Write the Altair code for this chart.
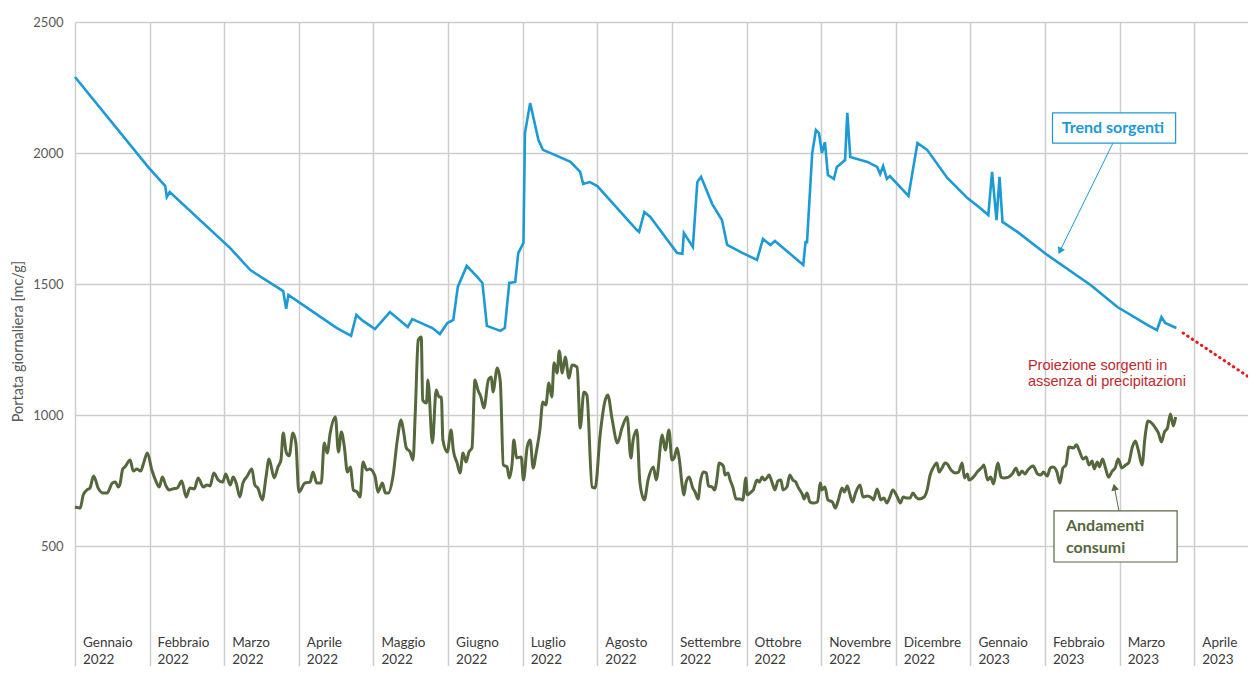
import altair as alt
import pandas as pd

# ---- data (x = months since 1 Jan 2022, equal-width months; y = mc/g) ----
months = ["Gennaio", "Febbraio", "Marzo", "Aprile", "Maggio", "Giugno", "Luglio",
          "Agosto", "Settembre", "Ottobre", "Novembre", "Dicembre",
          "Gennaio", "Febbraio", "Marzo", "Aprile"]
years = ["2022"] * 12 + ["2023"] * 4

trend_m = [0.00, 0.99, 1.21, 1.23, 1.27, 2.08, 2.35, 2.79, 2.83, 2.86,
           3.00, 3.51, 3.70, 3.77, 3.86, 4.02, 4.22, 4.46, 4.52, 4.79,
           4.89, 4.99, 5.07, 5.13, 5.25, 5.39, 5.46, 5.52, 5.70, 5.76,
           5.82, 5.90, 5.94, 6.01, 6.03, 6.10, 6.21, 6.27, 6.46, 6.64,
           6.77, 6.81, 6.90, 7.00, 7.53, 7.56, 7.63, 7.71, 8.07, 8.14,
           8.16, 8.28, 8.34, 8.39, 8.54, 8.67, 8.74, 8.95, 9.14, 9.22,
           9.32, 9.38, 9.76, 9.79, 9.81, 9.88, 9.93, 9.97, 10.01, 10.05,
           10.09, 10.17, 10.21, 10.32, 10.35, 10.39, 10.62, 10.75, 10.79, 10.83,
           10.88, 10.92, 11.17, 11.29, 11.42, 11.69, 11.96, 12.13, 12.24, 12.29,
           12.35, 12.39, 12.43, 12.63, 13.03, 13.61, 13.97, 14.37, 14.50, 14.56,
           14.61, 14.76]
trend_v = [2290, 1943, 1874, 1832, 1851, 1637, 1553, 1473, 1405, 1458,
           1431, 1332, 1302, 1382, 1359, 1328, 1393, 1336, 1366, 1332,
           1309, 1351, 1363, 1489, 1569, 1527, 1504, 1340, 1321, 1332,
           1504, 1508, 1618, 1657, 2076, 2191, 2050, 2012, 1989, 1966,
           1928, 1882, 1889, 1874, 1706, 1699, 1775, 1756, 1618, 1615,
           1695, 1641, 1889, 1909, 1805, 1744, 1649, 1618, 1592, 1672,
           1649, 1664, 1573, 1660, 1660, 2000, 2088, 2076, 2000, 2042,
           1916, 1901, 1947, 1973, 2153, 1985, 1966, 1947, 1920, 1950,
           1901, 1912, 1836, 2038, 2012, 1905, 1828, 1790, 1763, 1928,
           1744, 1909, 1737, 1699, 1611, 1496, 1412, 1344, 1324, 1374,
           1351, 1332]

proj_m = [14.85, 15.83]
proj_v = [1313, 1126]

cons_m = [0.00, 0.07, 0.11, 0.16, 0.20, 0.25, 0.31, 0.38, 0.43, 0.50, 0.54, 0.58, 0.60, 0.64, 0.67, 0.74, 0.78, 0.83, 0.88, 0.92, 0.97,
          1.03, 1.09, 1.13, 1.17, 1.22, 1.26, 1.31, 1.37, 1.43, 1.49, 1.54, 1.60, 1.65, 1.72, 1.77, 1.81, 1.86, 1.92, 1.98,
          2.02, 2.08, 2.12, 2.16, 2.21, 2.25, 2.31, 2.37, 2.41, 2.45, 2.51, 2.56, 2.60, 2.67, 2.72, 2.76, 2.79, 2.83, 2.87, 2.92, 2.96,
          3.00, 3.08, 3.15, 3.19, 3.24, 3.30, 3.34, 3.38, 3.42, 3.49, 3.53, 3.57, 3.61, 3.65, 3.69, 3.73, 3.78, 3.82, 3.86, 3.91, 3.95,
          4.02, 4.06, 4.12, 4.16, 4.20, 4.26, 4.32, 4.37, 4.40, 4.44, 4.49, 4.53, 4.56, 4.60, 4.64, 4.66, 4.71, 4.73, 4.79, 4.84, 4.88, 4.91, 4.93, 4.99,
          5.04, 5.07, 5.12, 5.16, 5.20, 5.24, 5.28, 5.32, 5.36, 5.40, 5.44, 5.48, 5.54, 5.58, 5.60, 5.66, 5.70, 5.74, 5.79, 5.82, 5.86, 5.88, 5.92, 5.98,
          6.01, 6.06, 6.10, 6.14, 6.18, 6.23, 6.27, 6.31, 6.35, 6.39, 6.42, 6.46, 6.49, 6.53, 6.57, 6.62, 6.66, 6.73, 6.77, 6.82, 6.86, 6.93, 6.97,
          7.04, 7.10, 7.14, 7.20, 7.27, 7.33, 7.40, 7.45, 7.48, 7.53, 7.57, 7.63, 7.68, 7.75, 7.79, 7.87, 7.91, 7.96,
          8.00, 8.03, 8.07, 8.10, 8.14, 8.16, 8.19, 8.23, 8.28, 8.31, 8.35, 8.38, 8.42, 8.46, 8.49, 8.54, 8.57, 8.61, 8.63, 8.69, 8.71, 8.75, 8.78, 8.82, 8.86, 8.91, 8.95, 8.99,
          9.01, 9.06, 9.09, 9.14, 9.17, 9.21, 9.24, 9.28, 9.30, 9.34, 9.38, 9.42, 9.46, 9.49, 9.54, 9.58, 9.62, 9.66, 9.69, 9.75, 9.77, 9.81, 9.85, 9.89, 9.95, 9.99,
          10.01, 10.05, 10.09, 10.15, 10.19, 10.23, 10.28, 10.31, 10.35, 10.38, 10.42, 10.46, 10.52, 10.56, 10.62, 10.68, 10.70, 10.75, 10.80, 10.84, 10.88, 10.92, 10.96,
          11.02, 11.06, 11.10, 11.15, 11.19, 11.23, 11.27, 11.31, 11.38, 11.42, 11.46, 11.50, 11.55, 11.58, 11.62, 11.66, 11.69, 11.74, 11.80, 11.84, 11.89, 11.92, 11.96, 11.98,
          12.04, 12.09, 12.16, 12.18, 12.23, 12.27, 12.31, 12.35, 12.37, 12.41, 12.45, 12.51, 12.57, 12.61, 12.65, 12.69, 12.73, 12.77, 12.84, 12.90, 12.94, 12.98,
          13.03, 13.07, 13.11, 13.16, 13.20, 13.24, 13.28, 13.32, 13.38, 13.42, 13.46, 13.51, 13.55, 13.59, 13.63, 13.66, 13.70, 13.73, 13.77, 13.81, 13.85, 13.90, 13.94, 13.98,
          14.03, 14.08, 14.12, 14.17, 14.21, 14.25, 14.30, 14.34, 14.38, 14.44, 14.48, 14.52, 14.56, 14.60, 14.64, 14.68, 14.72, 14.75]
cons_v = [649, 645, 695, 714, 721, 767, 721, 702, 702, 740, 744, 725, 733, 794, 802, 828, 786, 794, 786, 817, 855,
          790, 744, 725, 763, 729, 714, 718, 721, 748, 687, 721, 718, 760, 725, 733, 729, 779, 752, 744,
          775, 733, 763, 740, 687, 740, 767, 794, 733, 721, 676, 763, 832, 760, 802, 828, 931, 859, 844, 931, 893,
          706, 740, 744, 782, 740, 740, 893, 855, 931, 992, 859, 935, 878, 782, 802, 714, 706, 687, 821, 790, 794,
          767, 706, 740, 702, 702, 763, 905, 981, 943, 874, 859, 828, 1008, 1286, 1298, 1057, 1046, 1134, 893, 1095, 1069, 1069, 905, 859,
          943, 866, 817, 779, 855, 821, 859, 874, 1134, 1095, 1069, 1027, 1134, 1145, 1088, 1179, 1126, 809, 802, 760, 821, 905, 836, 840,
          752, 878, 905, 798, 855, 943, 1050, 1038, 1122, 1069, 1199, 1160, 1244, 1160, 1221, 1141, 1191, 1183, 950, 1088, 1076, 725, 721,
          931, 1050, 1076, 981, 893, 950, 992, 836, 905, 943, 744, 676, 752, 802, 752, 924, 866, 943,
          828, 836, 874, 828, 725, 695, 744, 763, 721, 706, 679, 744, 782, 779, 729, 725, 714, 771, 817, 805, 771, 779, 752, 721, 679, 679, 676, 760,
          695, 706, 714, 752, 744, 763, 752, 763, 771, 744, 714, 748, 752, 714, 725, 771, 752, 744, 725, 695, 679, 702, 668, 664, 668, 740,
          714, 725, 676, 668, 645, 676, 721, 706, 729, 702, 668, 702, 733, 687, 691, 683, 676, 718, 676, 683, 664, 687, 714,
          687, 664, 687, 683, 683, 702, 687, 679, 687, 714, 771, 798, 817, 782, 798, 817, 813, 790, 779, 782, 817, 760, 775, 752,
          763, 782, 802, 809, 752, 763, 737, 798, 817, 763, 760, 763, 779, 798, 771, 786, 775, 790, 805, 775, 771, 782,
          767, 798, 802, 782, 740, 798, 809, 878, 874, 886, 863, 832, 840, 809, 824, 794, 821, 802, 832, 798, 763, 786, 798, 832,
          798, 809, 817, 878, 901, 866, 809, 916, 977, 966, 950, 931, 897, 935, 950, 1004, 958, 992]

BLUE = "#1c9ad6"
GREEN = "#55683c"
RED = "#e8191f"
DARKRED = "#c0282d"
GRID = "#cdcdcd"

trend = pd.DataFrame({"mese": trend_m, "portata": trend_v})
cons = pd.DataFrame({"mese": cons_m, "portata": cons_v})
proj = pd.DataFrame({"mese": proj_m, "portata": proj_v})
mdf = pd.DataFrame({"mese": list(range(len(months))), "nome": months, "anno": years})

xscale = alt.Scale(domain=[0, 15.72], nice=False, zero=False)
yscale = alt.Scale(domain=[42, 2500], nice=False, zero=False)

X = alt.X("mese:Q", scale=xscale,
          axis=alt.Axis(values=list(range(16)), grid=True, labels=False, ticks=False,
                        domain=False, title=None, gridColor=GRID, gridWidth=1.5))
Y = alt.Y("portata:Q", scale=yscale,
          axis=alt.Axis(values=[500, 1000, 1500, 2000, 2500], grid=True, ticks=False,
                        domain=False, gridColor=GRID, gridWidth=1.5, format="d",
                        labelPadding=12, labelFont="Lato", labelFontSize=13,
                        labelColor="#595959",
                        title="Portata giornaliera [mc/g]", titleFont="Lato",
                        titleFontSize=14.5, titleFontWeight="normal", titleColor="#595959",
                        titleX=-57, titleY=319, titleAngle=270,
                        titleBaseline="middle", titleAlign="center"))

trend_line = alt.Chart(trend).mark_line(color=BLUE, strokeWidth=2.6).encode(x=X, y=Y)
cons_line = alt.Chart(cons).mark_line(color=GREEN, strokeWidth=3,
                                      interpolate="monotone").encode(x="mese:Q", y="portata:Q")
proj_line = alt.Chart(proj).mark_line(color=RED, strokeWidth=3, strokeDash=[0.5, 5],
                                      strokeCap="round", clip=True).encode(x="mese:Q", y="portata:Q")

month_txt = alt.Chart(mdf).mark_text(align="left", baseline="middle", dx=8, font="Lato",
                                     fontSize=13.5, color="#3a3a3a").encode(
    x="mese:Q", y=alt.datum(130), text="nome:N")
year_txt = alt.Chart(mdf).mark_text(align="left", baseline="middle", dx=8, font="Lato",
                                    fontSize=13.5, color="#3a3a3a").encode(
    x="mese:Q", y=alt.datum(65), text="anno:N")

base = alt.Chart(pd.DataFrame({"k": [0]}))

trend_box = base.mark_rect(fill="white", stroke=BLUE, strokeWidth=1.2).encode(
    x=alt.datum(13.10), x2=alt.datum(14.75), y=alt.datum(2153), y2=alt.datum(2038))
trend_lbl = base.mark_text(font="Lato", fontWeight="bold", fontSize=16, color=BLUE,
                           align="center", baseline="middle").encode(
    x=alt.datum(13.91), y=alt.datum(2096), text=alt.value("Trend sorgenti"))
trend_arrow = base.mark_rule(color=BLUE, strokeWidth=1).encode(
    x=alt.datum(13.91), y=alt.datum(2038), x2=alt.datum(13.20), y2=alt.datum(1626))
trend_head = base.mark_point(shape="triangle-up", filled=True, size=60, angle=206,
                             color=BLUE, opacity=1).encode(
    x=alt.datum(13.20), y=alt.datum(1626))

cons_box = base.mark_rect(fill="white", stroke=GREEN, strokeWidth=1.2).encode(
    x=alt.datum(13.12), x2=alt.datum(14.77), y=alt.datum(634), y2=alt.datum(439))
cons_lbl1 = base.mark_text(font="Lato", fontWeight="bold", fontSize=16, color=GREEN,
                           align="left", baseline="middle").encode(
    x=alt.datum(13.28), y=alt.datum(576), text=alt.value("Andamenti"))
cons_lbl2 = base.mark_text(font="Lato", fontWeight="bold", fontSize=16, color=GREEN,
                           align="left", baseline="middle").encode(
    x=alt.datum(13.28), y=alt.datum(492), text=alt.value("consumi"))
cons_arrow = base.mark_rule(color=GREEN, strokeWidth=1).encode(
    x=alt.datum(13.99), y=alt.datum(634), x2=alt.datum(13.93), y2=alt.datum(725))
cons_head = base.mark_point(shape="triangle-up", filled=True, size=60, angle=348,
                            color=GREEN, opacity=1).encode(
    x=alt.datum(13.93), y=alt.datum(725))

proj_lbl1 = base.mark_text(font="Liberation Sans", fontSize=14.5, color=DARKRED,
                           align="left", baseline="middle").encode(
    x=alt.datum(12.77), y=alt.datum(1187), text=alt.value("Proiezione sorgenti in"))
proj_lbl2 = base.mark_text(font="Liberation Sans", fontSize=14.5, color=DARKRED,
                           align="left", baseline="middle").encode(
    x=alt.datum(12.77), y=alt.datum(1126), text=alt.value("assenza di precipitazioni"))

chart = alt.layer(
    trend_line, cons_line, proj_line, month_txt, year_txt,
    trend_arrow, trend_head, trend_box, trend_lbl,
    cons_arrow, cons_head, cons_box, cons_lbl1, cons_lbl2,
    proj_lbl1, proj_lbl2,
).properties(
    width=1173, height=644,
    padding={"left": 67, "top": 14, "right": 0, "bottom": 0},
    autosize=alt.AutoSizeParams(type="none"),
).configure_view(strokeWidth=0).configure(background="white")

chart.save("out.html", embed_options={"renderer": "svg", "actions": False})
